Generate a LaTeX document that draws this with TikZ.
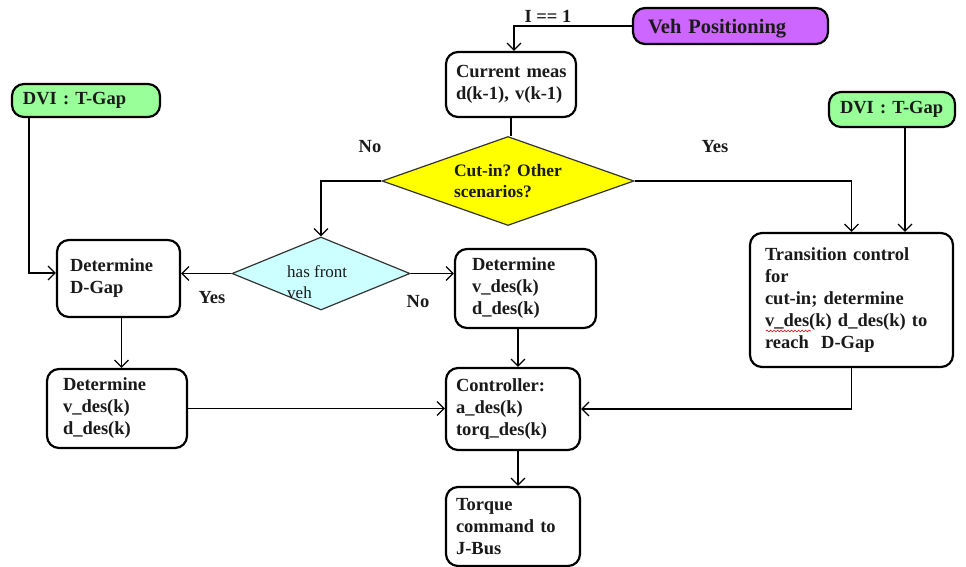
\documentclass[tikz,border=0pt]{standalone}
\usepackage{fontspec}
\setmainfont{Liberation Serif}
\usetikzlibrary{shapes.geometric,arrows.meta,decorations.pathmorphing,calc}
\definecolor{vehpurple}{HTML}{CC66FF}
\definecolor{dvigreen}{HTML}{99FF99}
\definecolor{cutyellow}{HTML}{FFFF00}
\definecolor{hfcyan}{HTML}{CCFFFF}
\definecolor{txtdark}{HTML}{1A1A1A}
\begin{document}
\begin{tikzpicture}[x=1pt,y=-1pt,
  box/.style={draw, line width=2.2pt, rounded corners=12pt, fill=white, align=left,
    font=\fontsize{18.5}{22}\selectfont\bfseries, inner ysep=2pt, text=txtdark},
  decis/.style={diamond, draw=black!80, line width=1.2pt, inner sep=0pt},
  arr/.style={draw, line width=1.2pt, -{Straight Barb[length=7pt,width=14pt,line width=1.2pt]}},
  ln/.style={draw, line width=1.2pt},
  lbl/.style={font=\fontsize{18.5}{22}\selectfont\bfseries, inner sep=0pt, text=txtdark},
]
\useasboundingbox (0,0) rectangle (966,566);

% boxes
\node[box, fill=vehpurple, minimum width=195pt, minimum height=36pt, text width=165pt,
  inner xsep=15pt, text height=19pt, text depth=4pt,
  font=\fontsize{20.5}{24}\selectfont\bfseries] (veh) at (730.5,26) {Veh Positioning};
\node[box, minimum width=130pt, minimum height=65pt, text width=110pt, inner xsep=10pt]
  (cur) at (511,84.5) {\mbox{Current meas}\\\mbox{d(k-1), v(k-1)}};
\node[box, fill=dvigreen, minimum width=148pt, minimum height=33pt, text width=126pt, inner xsep=11pt]
  (dvil) at (86,100.5) {DVI : T-Gap};
\node[box, fill=dvigreen, minimum width=126pt, minimum height=35pt, text width=104pt, inner xsep=11pt]
  (dvir) at (892,109.5) {DVI : T-Gap};
\node[box, minimum width=123pt, minimum height=77pt, text width=97pt, inner xsep=13pt]
  (dgap) at (118.5,278.5) {Determine\\D-Gap\\[-8pt]};
\node[box, minimum width=140pt, minimum height=79pt, text width=108pt, inner xsep=16pt]
  (vdl) at (117,408.5) {Determine\\v\_des(k)\\d\_des(k)};
\node[box, minimum width=141pt, minimum height=79pt, text width=107pt, inner xsep=17pt]
  (vdm) at (525.5,288.5) {Determine\\v\_des(k)\\d\_des(k)};
\node[box, minimum width=134pt, minimum height=82pt, text width=114pt, inner xsep=10pt]
  (ctrl) at (513,409) {Controller:\\a\_des(k)\\torq\_des(k)};
\node[box, minimum width=134pt, minimum height=79pt, text width=114pt, inner xsep=10pt]
  (torq) at (513,526.5) {Torque\\command to\\J-Bus};
\node[box, minimum width=203pt, minimum height=134pt, text width=173pt, inner xsep=15pt]
  (trans) at (851.5,300) {Transition control\\for\\cut-in; determine\\v\_des(k) d\_des(k) to\\reach\ \ D-Gap};

% decisions
\node[decis, fill=cutyellow, minimum width=252pt, minimum height=89pt, aspect=2.83, align=left,
  font=\fontsize{17.5}{21}\selectfont\bfseries, text=txtdark] (cut) at (508,181) {Cut-in? Other\\scenarios?};
\node[decis, fill=hfcyan, minimum width=178pt, minimum height=73pt] (hfv) at (321,273.5) {};
\node[anchor=west, align=left, inner sep=0pt, font=\fontsize{17}{21}\selectfont, text=txtdark]
  (hfvtext) at (287,282.5) {has front\\veh};

% spell-check squiggle
\draw[red!85!black, line width=0.6pt, decorate, decoration={snake, amplitude=0.9pt, segment length=3.5pt}]
  (766,331) -- (811,331);

% labels
\node[lbl] (lone) at (548,16) {I == 1};
\node[lbl] (lno1) at (370,147) {No};
\node[lbl] (lyes1) at (715,147) {Yes};
\node[lbl] (lyes2) at (212,298) {Yes};
\node[lbl] (lno2) at (418,302) {No};

% connectors
\draw[arr] (veh.west) -| ([xshift=3pt]cur.north);
\draw[ln] (cur.south) -- (cur.south |- cut.north);
\draw[arr] (cut.west) -| (hfv.north);
\draw[arr] (hfv.west) -- (hfv.west -| dgap.east);
\draw[arr] (hfv.east) -- (hfv.east -| vdm.west);
\draw[arr] ([xshift=18pt]dvil.south west) |- ($(dgap.west)+(0,-5.5)$);
\draw[arr] ([xshift=3pt]dgap.south) -- ([xshift=3pt]dgap.south |- vdl.north);
\draw[arr] (vdl.east) -- (vdl.east -| ctrl.west);
\draw[arr] ([xshift=5pt]ctrl.north |- vdm.south) -- ([xshift=5pt]ctrl.north);
\draw[arr] ([xshift=5pt]ctrl.south) -- ([xshift=5pt]torq.north);
\draw[arr] (cut.east) -| (trans.north);
\draw[arr] ([xshift=13pt]dvir.south) -- ([xshift=13pt]dvir.south |- trans.north);
\draw[arr] (trans.south) |- (ctrl.east);
\end{tikzpicture}
\end{document}
